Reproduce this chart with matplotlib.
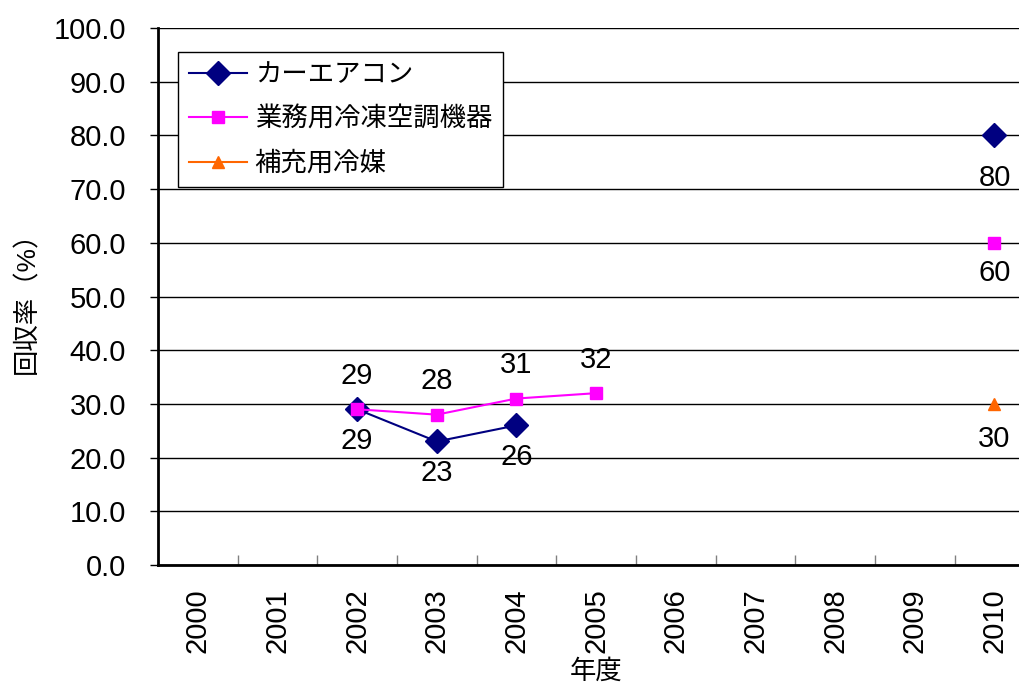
import matplotlib
matplotlib.use("Agg")
import matplotlib.pyplot as plt
import numpy as np

plt.rcParams['font.family'] = ['Liberation Sans', 'Noto Sans CJK JP']

years = ['2000', '2001', '2002', '2003', '2004', '2005', '2006', '2007', '2008', '2009', '2010']
car_ac = [np.nan, np.nan, 29, 23, 26, np.nan, np.nan, np.nan, np.nan, np.nan, 80]
commercial = [np.nan, np.nan, 29, 28, 31, 32, np.nan, np.nan, np.nan, np.nan, 60]
refill = [np.nan, np.nan, np.nan, np.nan, np.nan, np.nan, np.nan, np.nan, np.nan, np.nan, 30]
names = ['カーエアコン', '業務用冷凍空調機器', '補充用冷媒']

fig = plt.figure(figsize=(10.19, 6.84), dpi=100)
ax = fig.add_axes([0.155, 0.174, 0.86, 0.785])
x = np.arange(len(years))

ax.plot(x, car_ac, color='#000080', marker='D', markersize=12, linewidth=1.5, label=names[0], zorder=3)
ax.plot(x, commercial, color='#FF00FF', marker='s', markersize=9, linewidth=1.5, label=names[1], zorder=4)
ax.plot(x, refill, color='#FF6600', marker='^', markersize=9, linewidth=1.5, label=names[2], zorder=4)

fs = 21
fj = 19
for i, v in enumerate(car_ac):
    if not np.isnan(v):
        off = -31 if i == 10 else -23
        ax.annotate(str(v), (x[i], v), xytext=(0, off), textcoords='offset points',
                    ha='center', va='center', fontsize=fs)
for i, v in enumerate(commercial):
    if not np.isnan(v):
        off = -22 if i == 10 else 24
        ax.annotate(str(v), (x[i], v), xytext=(0, off), textcoords='offset points',
                    ha='center', va='center', fontsize=fs)
for i, v in enumerate(refill):
    if not np.isnan(v):
        ax.annotate(str(v), (x[i], v), xytext=(0, -25), textcoords='offset points',
                    ha='center', va='center', fontsize=fs)

ax.set_xlim(-0.5, len(years) - 0.5)
ax.set_ylim(0, 100)
ax.set_yticks(np.arange(0, 101, 10))
ax.set_yticklabels(['%.1f' % t for t in np.arange(0, 101, 10)], fontsize=fs)
ax.set_xticks(x)
ax.set_xticklabels(years, rotation=90, fontsize=fs)
ax.tick_params(axis='x', length=0, pad=17)
ax.set_xticks(np.arange(0.5, len(years) - 1, 1), minor=True)
ax.tick_params(axis='x', which='minor', direction='in', length=7, width=1, color='#808080')
ax.tick_params(axis='y', direction='out', length=6, width=1, pad=17)
ax.grid(axis='y', color='black', linewidth=1)
ax.set_axisbelow(True)
for s in ['top', 'right']:
    ax.spines[s].set_visible(False)
for s in ['left', 'bottom']:
    ax.spines[s].set_linewidth(2)

ax.set_xlabel('年度', fontsize=fj, labelpad=4)
ax.set_ylabel('回収率（%）', fontsize=fj, labelpad=10)

leg = ax.legend(loc='upper left', bbox_to_anchor=(0.023, 0.955), fontsize=fj, frameon=True,
                fancybox=False, edgecolor='black', framealpha=1, handlelength=2.2,
                borderpad=0.4, labelspacing=0.75, handletextpad=0.3, borderaxespad=0)
leg.get_frame().set_linewidth(1)

fig.savefig('out.png', dpi=100)
